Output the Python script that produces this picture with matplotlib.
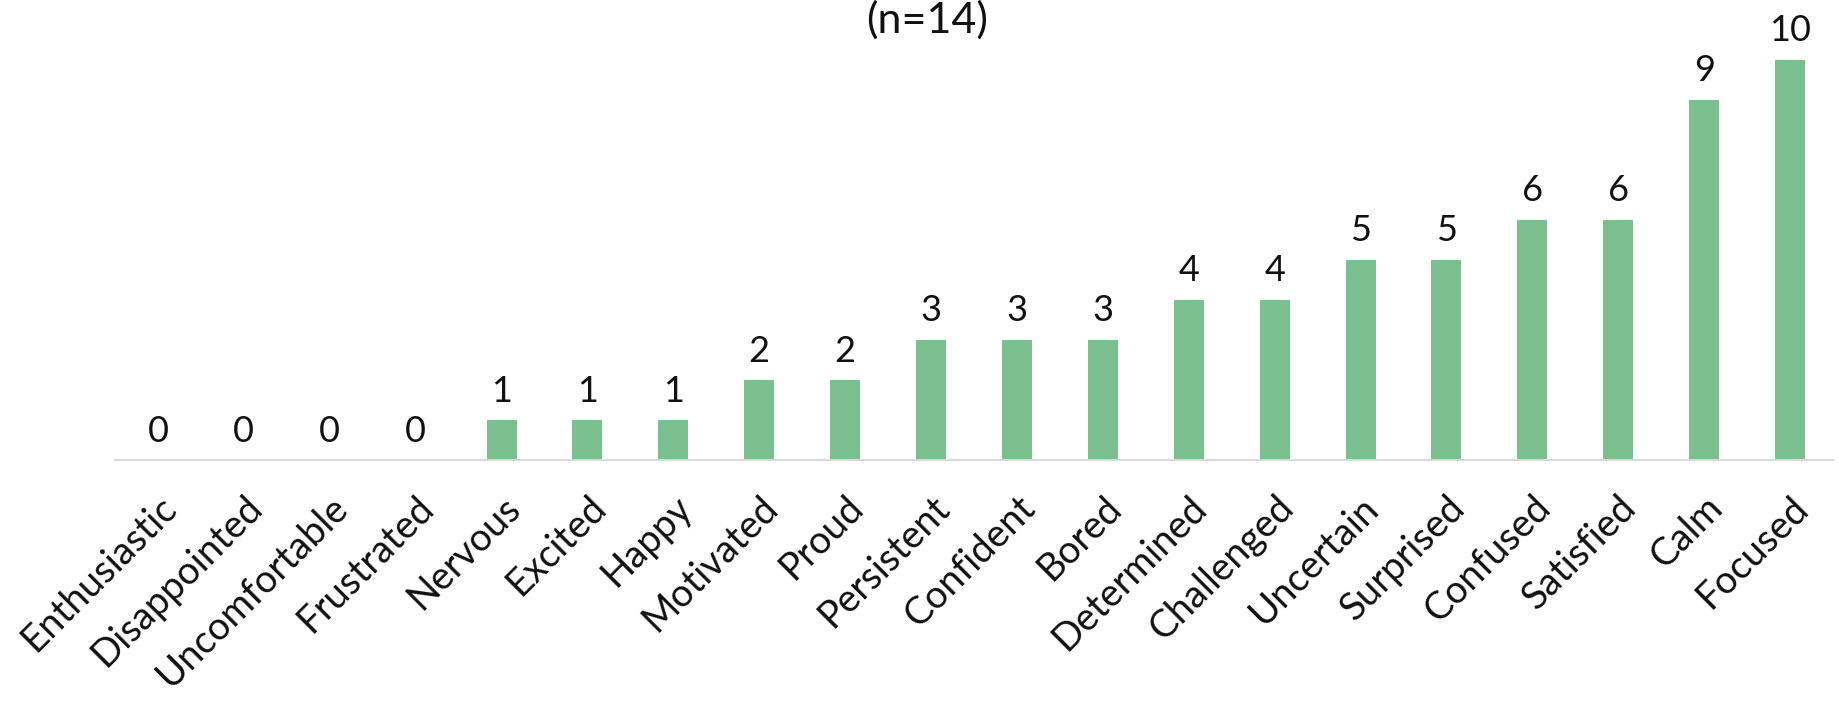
import matplotlib.pyplot as plt
import numpy as np

# feelings reported during the session, sorted by count
feelings = ["Enthusiastic", "Disappointed", "Uncomfortable", "Frustrated", "Nervous",
            "Excited", "Happy", "Motivated", "Proud", "Persistent", "Confident", "Bored",
            "Determined", "Challenged", "Uncertain", "Surprised", "Confused", "Satisfied",
            "Calm", "Focused"]
counts = [0, 0, 0, 0, 1, 1, 1, 2, 2, 3, 3, 3, 4, 4, 5, 5, 6, 6, 9, 10]
title = "(n=14)"

plt.rcParams['font.family'] = ['Lato', 'DejaVu Sans']

fig = plt.figure(figsize=(18.39, 7.03), dpi=100)
ax = fig.add_axes([115/1839, 243/703, 1718/1839, 440/703])

x = np.arange(len(feelings))
bars = ax.bar(x, counts, width=0.35, color="#7bbf8e")

for xi, c in zip(x, counts):
    ax.annotate(str(c), (xi, c), xytext=(0, 9), textcoords="offset points",
                ha="center", va="bottom", fontsize=26, color="#111111",
                annotation_clip=False)

ax.set_xlim(-0.5, len(feelings) - 0.5)
ax.set_ylim(0, 11)
ax.set_xticks(x)
ax.set_xticklabels(feelings, rotation=45, ha="right", rotation_mode="anchor",
                   fontsize=27.5, color="#111111")
ax.tick_params(axis="x", length=0, pad=21)
ax.set_yticks([])
for s in ["top", "left", "right"]:
    ax.spines[s].set_visible(False)
ax.spines["bottom"].set_color("#d9d9d9")
ax.spines["bottom"].set_linewidth(1.5)

fig.text(927/1839, 1 - 33/703, title, ha="center", va="baseline",
         fontsize=31, color="#111111")

fig.savefig("out.png", dpi=100)
